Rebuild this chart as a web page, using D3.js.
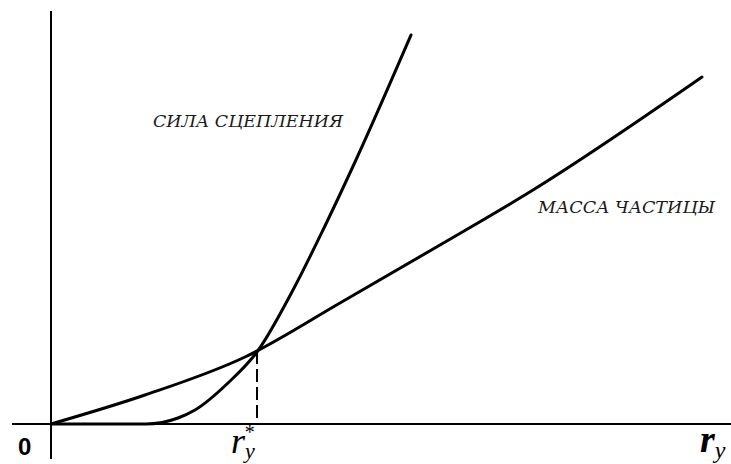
<!DOCTYPE html>
<html>
<head>
<meta charset="utf-8">
<script src="https://cdn.jsdelivr.net/npm/d3@7"></script>
<style>
  html, body { margin: 0; padding: 0; background: #fff; }
  svg { display: block; }
</style>
</head>
<body>
<svg id="chart" width="731" height="464"></svg>
<script>
// Data (arbitrary units: r along x, magnitude along y)
const massX = [0, 94, 194, 289, 389, 482, 651];
const massY = [0, 29, 67, 121, 179, 234, 347];
const adhX = [0, 95, 127, 144, 177, 206, 242, 272, 304, 360];
const adhY = [0, 0, 6, 14, 41, 72, 134, 194, 262, 389];
const crossX = 206;       // r_y*
const crossY = 73;
const xAxisRange = [-39, 680];
const yAxisRange = [-35, 413];
const labelAdh = "СИЛА СЦЕПЛЕНИЯ";
const labelMass = "МАССА ЧАСТИЦЫ";

const svg = d3.select("#chart");
const x = d3.scaleLinear().domain([0, 680]).range([51, 731]);
const y = d3.scaleLinear().domain([0, 414]).range([424, 10]);

// Axes
svg.append("line")
  .attr("x1", x(xAxisRange[0])).attr("x2", x(xAxisRange[1]))
  .attr("y1", y(0)).attr("y2", y(0))
  .attr("stroke", "#000").attr("stroke-width", 2);
svg.append("line")
  .attr("x1", x(0)).attr("x2", x(0))
  .attr("y1", y(yAxisRange[1])).attr("y2", y(yAxisRange[0]))
  .attr("stroke", "#000").attr("stroke-width", 2);

// Dashed drop line
svg.append("line")
  .attr("x1", x(crossX)).attr("x2", x(crossX))
  .attr("y1", y(crossY)).attr("y2", y(0))
  .attr("stroke", "#000").attr("stroke-width", 2)
  .attr("stroke-dasharray", "13,5");

const line = d3.line().x(d => x(d[0])).y(d => y(d[1]))
  .curve(d3.curveMonotoneX);

svg.append("path")
  .attr("d", line(massX.map((v, i) => [v, massY[i]])))
  .attr("fill", "none").attr("stroke", "#000").attr("stroke-width", 3)
  .attr("stroke-linecap", "round");
svg.append("path")
  .attr("d", line(adhX.map((v, i) => [v, adhY[i]])))
  .attr("fill", "none").attr("stroke", "#000").attr("stroke-width", 3)
  .attr("stroke-linecap", "round");

// Curve labels
const serif = "'DejaVu Serif', 'Liberation Serif', serif";
svg.append("text")
  .attr("x", 153).attr("y", 127)
  .attr("font-family", serif)
  .attr("font-style", "italic").attr("font-size", 16)
  .attr("textLength", 190).attr("lengthAdjust", "spacingAndGlyphs")
  .attr("fill", "#1a1a1a")
  .text(labelAdh);
svg.append("text")
  .attr("x", 538).attr("y", 213)
  .attr("font-family", serif)
  .attr("font-style", "italic").attr("font-size", 16)
  .attr("textLength", 177).attr("lengthAdjust", "spacingAndGlyphs")
  .attr("fill", "#1a1a1a")
  .text(labelMass);

// Origin label
svg.append("text")
  .attr("x", 18).attr("y", 455)
  .attr("font-family", "'Liberation Sans', Arial, sans-serif")
  .attr("font-weight", "bold").attr("font-size", 24)
  .attr("fill", "#000")
  .text("0");

// r_y* label
const t1 = svg.append("text")
  .attr("x", 231).attr("y", 453)
  .attr("font-family", "'Liberation Serif', serif")
  .attr("font-style", "italic").attr("font-size", 36)
  .attr("fill", "#000");
t1.append("tspan").text("r");
t1.append("tspan").attr("font-size", 22).attr("dy", 5).text("y");
t1.append("tspan").attr("font-size", 20).attr("font-style", "normal")
  .attr("dx", -10).attr("dy", -19).text("*");

// r_y axis label
const t2 = svg.append("text")
  .attr("x", 700).attr("y", 452)
  .attr("font-family", "'Liberation Serif', serif")
  .attr("font-style", "italic").attr("font-weight", "bold").attr("font-size", 38)
  .attr("fill", "#000");
t2.append("tspan").text("r");
t2.append("tspan").attr("font-size", 24).attr("font-weight", "normal").attr("dy", 6).text("y");
</script>
</body>
</html>
